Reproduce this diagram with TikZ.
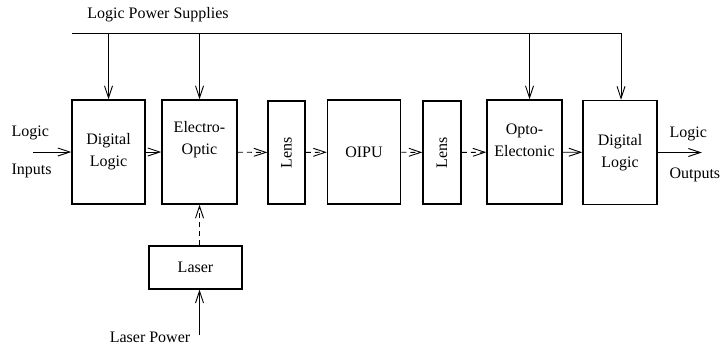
\documentclass[tikz,border=0pt]{standalone}
\usepackage{fontspec}
\setmainfont{Liberation Serif}
\usetikzlibrary{arrows.meta, positioning}

\begin{document}
\begin{tikzpicture}[x=1pt, y=-1pt, >={Straight Barb[length=12pt, width=8pt]},
      font=\fontsize{16}{22}\selectfont,
      block/.style={rectangle, draw, line width=1.5pt, align=center,
          minimum height=104pt, inner sep=1pt},
      sig/.style={->, line width=0.9pt},
      optsig/.style={->, line width=0.9pt, dash pattern=on 5pt off 4pt}]
    \useasboundingbox (0,0) rectangle (725,348);
    % main chain
    \node[block, minimum width=73pt] (dlin)  at (108.5,152) {Digital\\Logic};
    \node[block, minimum width=75pt] (eo)    at (199.5,152) {Electro-\\Optic\\[6pt]};
    \node[block, minimum width=37pt, minimum height=103pt] (lensa) at (286.5,152.5)
        {\rotatebox{90}{Lens}};
    \node[block, minimum width=73pt] (oipu)  at (364,152)   {OIPU};
    \node[block, minimum width=38pt, minimum height=103pt] (lensb) at (442,152.5)
        {\rotatebox{90}{Lens}};
    \node[block, minimum width=75pt] (oe)    at (524.5,152) {Opto-\\Electonic\\[2pt]};
    \node[block, minimum width=74pt] (dlout) at (620,152.5) {Digital\\Logic};
    \node[block, line width=1.3pt, minimum width=93pt, minimum height=43pt] (laser)
        at (195.5,267.5) {Laser};
    % labels
    \node (lps)  at (158,15)  {Logic Power Supplies};
    \node[align=left, anchor=west] (lin)  at (8,152)  {Logic\\[16pt]Inputs};
    \node[align=left, anchor=west] (lout) at (666,154) {Logic\\[19pt]Outputs};
    \node (lpow) at (150,337) {Laser Power};
    % power bus
    \coordinate (busl) at (72,33);
    \coordinate (busr) at (621,33);
    \draw[line width=0.9pt] (busl) -- (busr);
    \draw[sig] (busr) -- (dlout.north -| busr);
    \draw[sig] (dlin.north |- busl) -- (dlin.north);
    \draw[sig] (eo.north |- busl) -- (eo.north);
    \draw[sig] ([xshift=5pt]oe.north |- busl) -- ([xshift=5pt]oe.north);
    % signal path
    \draw[sig] ([xshift=-38pt]dlin.west) -- (dlin.west);
    \draw[sig] (dlin) -- (eo);
    \draw[optsig] (eo) -- (lensa);
    \draw[optsig] (lensa) -- (oipu);
    \draw[optsig] (oipu) -- (lensb);
    \draw[optsig] (lensb) -- (oe);
    \draw[sig] (oe) -- (dlout);
    \draw[sig] (dlout.east) -- ++(44pt,0);
    % laser
    \draw[optsig] (eo.south |- laser.north) -- (eo.south);
    \coordinate (lpin) at (eo.south |- 0,335);
    \draw[sig] (lpin) -- (eo.south |- laser.south);
\end{tikzpicture}
\end{document}
